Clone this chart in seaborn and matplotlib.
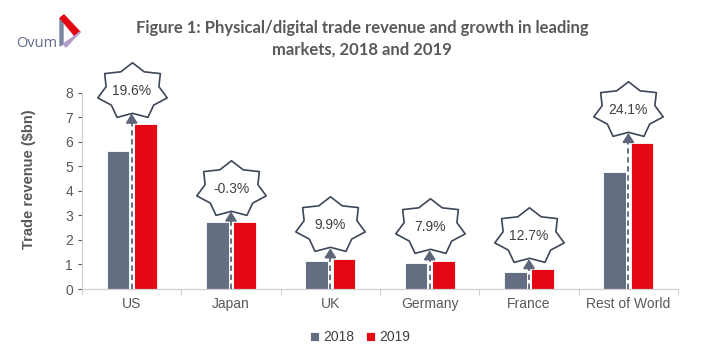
import matplotlib.pyplot as plt
import matplotlib.patches as mpatches
import numpy as np
import pandas as pd
import seaborn as sns
from matplotlib.path import Path
from matplotlib.markers import MarkerStyle

markets = ['US', 'Japan', 'UK', 'Germany', 'France', 'Rest of World']
rev_2018 = [5.64, 2.74, 1.14, 1.07, 0.71, 4.78]
rev_2019 = [6.73, 2.72, 1.24, 1.16, 0.80, 5.94]
growth = ['19.6%', '-0.3%', '9.9%', '7.9%', '12.7%', '24.1%']
years = ['2018', '2019']

GREY = '#646e83'
RED = '#e30613'
TXT = '#595959'


def star_marker(points=7, inner=0.76, stretch=1.24):
    ang = np.arange(2 * points) * np.pi / points
    rad = np.where(np.arange(2 * points) % 2 == 0, 1.0, inner)
    verts = np.column_stack([rad * np.sin(ang) * stretch, rad * np.cos(ang)])
    verts = np.vstack([verts, verts[:1]])
    codes = [Path.MOVETO] + [Path.LINETO] * (2 * points - 1) + [Path.CLOSEPOLY]
    return MarkerStyle(Path(verts, codes))


def plot():
    df = pd.DataFrame({
        'market': markets * 2,
        'year': [years[0]] * len(markets) + [years[1]] * len(markets),
        'revenue': rev_2018 + rev_2019,
    })

    sns.set_style('white')
    plt.rcParams['font.family'] = ['Liberation Sans', 'DejaVu Sans']

    fig = plt.figure(figsize=(7.2, 3.6), dpi=100)
    ax = fig.add_axes([0.1139, 0.1972, 0.8278, 0.5453])

    sns.barplot(df, x='market', y='revenue', hue='year', palette=[GREY, RED], saturation=1,
                width=0.55, gap=0.16, ax=ax, legend=True, edgecolor='white', linewidth=0.6)

    ax.set_ylim(0, 8)
    ax.set_xlim(-0.5, len(markets) - 0.5)
    ax.set_yticks(range(9))
    ax.set_xlabel('')
    ax.set_ylabel('Trade revenue ($bn)', fontsize=10.5, fontweight='bold', color=TXT, labelpad=11)
    ax.yaxis.set_label_coords(-0.078, 0.56)
    ax.tick_params(axis='y', colors=TXT, labelsize=10, length=3, width=0.8, direction='out', left=True)
    ax.tick_params(axis='x', colors=TXT, labelsize=10, length=0, pad=6)
    ax.set_xticks(np.arange(len(markets) + 1) - 0.5, minor=True)
    ax.tick_params(axis='x', which='minor', length=4, width=0.8, color='#d0d0d0', bottom=True)
    for s in ['top', 'right']:
        ax.spines[s].set_visible(False)
    for s in ['left', 'bottom']:
        ax.spines[s].set_color('#d0d0d0')
        ax.spines[s].set_linewidth(0.9)

    marker = star_marker()
    for i, (a, b, g) in enumerate(zip(rev_2018, rev_2019, growth)):
        top = max(a, b)
        tip = top + 0.42
        ax.plot([i, i], [0, tip - 0.2], color='white', lw=3.5, solid_capstyle='butt', zorder=3)
        ax.plot([i, i], [0, tip - 0.2], color='#5d6579', lw=1.3, ls=(0, (3, 2)), zorder=4)
        ax.annotate('', xy=(i, tip), xytext=(i, tip - 0.3),
                    arrowprops=dict(arrowstyle='-|>,head_length=0.55,head_width=0.35',
                                    color='#5d6579', lw=1.3, shrinkA=0, shrinkB=0),
                    zorder=4)
        cy = top + 1.35
        ax.plot([i], [cy], marker=marker, markersize=50, markerfacecolor='white',
                markeredgecolor='#3d4757', markeredgewidth=1.2, clip_on=False, zorder=5)
        ax.text(i, cy, g, ha='center', va='center', fontsize=10, color='#404040', zorder=6)

    handles, labels = ax.get_legend_handles_labels()
    ax.get_legend().remove()
    fig.legend(handles, labels, loc='center', bbox_to_anchor=(0.5, 0.063), ncol=2, frameon=False,
               fontsize=10, handlelength=0.7, handleheight=0.7, handletextpad=0.3,
               columnspacing=0.8, labelcolor='#404040')

    fig.text(0.503, 0.892, 'Figure 1: Physical/digital trade revenue and growth in leading\nmarkets, 2018 and 2019',
             ha='center', va='center', fontsize=12, fontweight='bold', color=TXT,
             family=['Lato', 'DejaVu Sans'], linespacing=1.45)

    # Ovum logo
    fig.text(0.023, 0.88, 'Ovum', ha='left', va='center', fontsize=10.5, color='#5f6e8c',
             family=['Open Sans', 'DejaVu Sans'])
    px = lambda pts: [(x / 720, 1 - y / 360) for x, y in pts]
    fig.patches.append(mpatches.Polygon(px([(60, 19), (63, 21), (63, 44), (60, 46)]),
                                        closed=True, color='#7b86a0', transform=fig.transFigure))
    fig.patches.append(mpatches.Polygon(px([(60, 18), (64, 15), (80, 32), (75, 36)]),
                                        closed=True, color=RED, transform=fig.transFigure))
    fig.patches.append(mpatches.Polygon(px([(63, 44), (75, 36), (80, 32), (66, 47)]),
                                        closed=True, color='#b59bc8', transform=fig.transFigure))

    fig.savefig('out.png', dpi=100)


if __name__ == '__main__':
    plot()
